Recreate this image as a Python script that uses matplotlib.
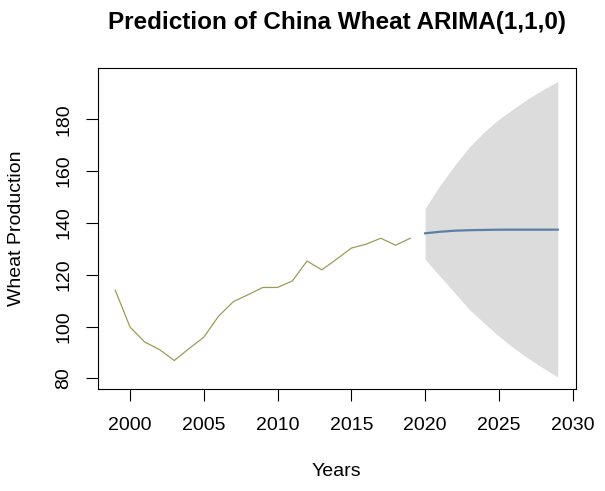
import matplotlib.pyplot as plt

plt.rcParams['font.family'] = ['Liberation Sans', 'DejaVu Sans']

# observed production
years = list(range(1999, 2020))
wheat = [114.0, 99.8, 94.0, 91.1, 86.9, 91.5, 95.9, 104.0, 109.6, 112.3, 115.1,
         115.1, 117.6, 125.3, 121.9, 126.0, 130.3, 131.8, 134.1, 131.4, 134.1]

# ARIMA(1,1,0) forecast with interval
fc_years = list(range(2020, 2030))
fc_mean = [136.0, 136.6, 137.0, 137.2, 137.3, 137.4, 137.4, 137.4, 137.4, 137.4]
fc_upper = [145.6, 154.4, 162.2, 169.3, 175.1, 180.0, 184.1, 188.0, 191.5, 194.6]
fc_lower = [126.0, 119.5, 113.1, 106.6, 101.4, 96.3, 91.8, 87.7, 84.0, 80.5]

x_ticks = [2000, 2005, 2010, 2015, 2020, 2025, 2030]
y_ticks = [80, 100, 120, 140, 160, 180]

W, H = 605, 491
fig = plt.figure(figsize=(W / 100, H / 100), dpi=100)
ax = fig.add_axes([97.6 / W, (H - 389) / H, (575.5 - 97.6) / W, (389 - 68.3) / H])

ax.fill_between(fc_years, fc_lower, fc_upper, color='#dcdcdc', linewidth=0)
ax.plot(years, wheat, color='#9c9c58', linewidth=0.9)
ax.plot(fc_years, fc_mean, color='#5b80a8', linewidth=1.6)

ax.set_xlim(1997.8, 2030.2)
ax.set_ylim(75.9, 199.7)
ax.set_xticks(x_ticks)
ax.set_yticks(y_ticks)
ax.tick_params(axis='both', length=8.4, width=0.8, labelsize=14, color='black')
ax.tick_params(axis='x', pad=12)
ax.tick_params(axis='y', pad=10)
for lab in ax.get_yticklabels():
    lab.set_rotation(90)
    lab.set_va('center')
for s in ax.spines.values():
    s.set_linewidth(0.8)

fig.text(336.5 / W, 1 - 22 / H, 'Prediction of China Wheat ARIMA(1,1,0)',
         ha='center', va='center', fontsize=17.5, fontweight='bold')
fig.text(336.5 / W, 1 - 472 / H, 'Years', ha='center', va='center', fontsize=14)
fig.text(17 / W, 1 - 228.5 / H, 'Wheat Production', ha='center', va='center',
         rotation=90, fontsize=14)

fig.savefig('out.png', dpi=100)
